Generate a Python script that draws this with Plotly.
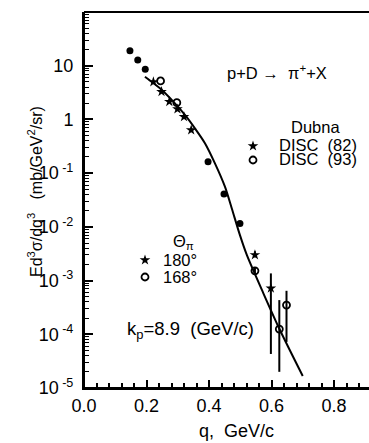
import plotly.graph_objects as go

# ---------------- data ----------------
dubna_q = [0.147, 0.172, 0.196, 0.397, 0.448, 0.499]
dubna_v = [19.0, 12.8, 8.6, 0.163, 0.041, 0.0116]

disc82_q = [0.222, 0.248, 0.273, 0.299, 0.320, 0.343, 0.547, 0.598]
disc82_v = [5.0, 3.28, 2.14, 1.56, 1.12, 0.635, 0.0030, 7.2e-4]
disc82_hi = [5.0, 3.28, 2.14, 1.56, 1.12, 0.635, 0.0035, 1.36e-3]
disc82_lo = [5.0, 3.28, 2.14, 1.56, 1.12, 0.635, 0.0027, 4.3e-5]

disc93_q = [0.245, 0.297, 0.547, 0.625, 0.648]
disc93_v = [5.2, 2.05, 0.00152, 1.25e-4, 3.5e-4]
disc93_hi = [5.2, 2.05, 0.00175, 4.33e-4, 6.45e-4]
disc93_lo = [5.2, 2.05, 0.00130, 2.0e-5, 7.2e-5]

curve_q = [0.195, 0.243, 0.286, 0.323, 0.355, 0.387, 0.419, 0.451, 0.473, 0.499, 0.521,
           0.574, 0.627, 0.700]
curve_v = [6.25, 3.8, 2.14, 1.21, 0.68, 0.36, 0.152, 0.056, 0.022, 0.0070, 0.0030,
           5.8e-4, 1.2e-4, 1.67e-5]

y_tickvals = [1e2, 1e1, 1, 1e-1, 1e-2, 1e-3, 1e-4, 1e-5]
y_ticktext = ["10<sup> 2</sup> ", "10 ", "1 ", "10<sup> -1</sup> ", "10<sup> -2</sup> ",
              "10<sup> -3</sup> ", "10<sup> -4</sup> ", "10<sup> -5</sup> "]
x_tickvals = [0.0, 0.2, 0.4, 0.6, 0.8]
x_ticktext = ["0.0", "0.2", "0.4", "0.6", "0.8"]

FONT = "Liberation Sans"
W, H = 369, 443
L, R, T, B = 84, 0, 12, 55
PW, PH = W - L - R, H - T - B
XMAX = 0.912

x_minor = [round(i * 0.04, 2) for i in range(0, 23)]
y_minor = [k * 10.0 ** d for d in range(-5, 2) for k in range(2, 10)]


def px(xp):
    return (xp - L) / PW


def py(yp):
    return (H - B - yp) / PH


def dq(xp):
    return (xp - L) / PW * XMAX


def dv(yp):
    return 10 ** (2 - (yp - T) / PH * 7)


fig = go.Figure()

fig.add_trace(go.Scatter(x=curve_q, y=curve_v, mode="lines",
                         line=dict(color="black", width=2, shape="spline", smoothing=0.8),
                         showlegend=False, hoverinfo="skip"))

fig.add_trace(go.Scatter(x=dubna_q, y=dubna_v, mode="markers",
                         marker=dict(symbol="circle", size=7, color="black"),
                         showlegend=False))


def errs(v, hi, lo):
    return [h - x for x, h in zip(v, hi)], [x - l for x, l in zip(v, lo)]


up82, dn82 = errs(disc82_v, disc82_hi, disc82_lo)
fig.add_trace(go.Scatter(x=disc82_q, y=disc82_v, mode="markers",
                         marker=dict(symbol="star", size=8, color="black"),
                         error_y=dict(type="data", symmetric=False, array=up82, arrayminus=dn82,
                                      color="black", thickness=2, width=0),
                         showlegend=False))

up93, dn93 = errs(disc93_v, disc93_hi, disc93_lo)
fig.add_trace(go.Scatter(x=disc93_q, y=disc93_v, mode="markers",
                         marker=dict(symbol="circle-open", size=7, color="black",
                                     line=dict(width=1.8, color="black")),
                         error_y=dict(type="data", symmetric=False, array=up93, arrayminus=dn93,
                                      color="black", thickness=2, width=0),
                         showlegend=False))

# legend keys drawn as markers
fig.add_trace(go.Scatter(x=[dq(253), dq(145)], y=[dv(146), dv(260)], mode="markers",
                         marker=dict(symbol="star", size=8, color="black"),
                         showlegend=False, hoverinfo="skip"))
fig.add_trace(go.Scatter(x=[dq(253), dq(145)], y=[dv(160), dv(277)], mode="markers",
                         marker=dict(symbol="circle-open", size=7, color="black",
                                     line=dict(width=1.8, color="black")),
                         showlegend=False, hoverinfo="skip"))

anns = [
    dict(text="p+D \u2192  \u03c0<sup>+</sup>+X", x=px(277), y=py(72), size=16.5),
    dict(text="Dubna", x=px(315), y=py(127), size=16.5),
    dict(text="DISC  (82)", x=px(318), y=py(145), size=16.5),
    dict(text="DISC  (93)", x=px(318), y=py(159), size=16.5),
    dict(text="\u0398<sub>\u03c0</sub>", x=px(183), y=py(242), size=16.5),
    dict(text="180\u00b0", x=px(180), y=py(260), size=16.5),
    dict(text="168\u00b0", x=px(180), y=py(277), size=16.5),
    dict(text="k<sub>p</sub>=8.9  (GeV/c)", x=px(190), y=py(330), size=18.5),
    dict(text="q,  GeV/c", x=px(236), y=py(431), size=18),
    dict(text="Ed<sup>3</sup>\u03c3/dq<sup>3</sup>   (mb/GeV<sup>2</sup>/sr)",
         x=px(35), y=py(192), textangle=-90, size=16),
]
for a in anns:
    sz = a.pop("size")
    fig.add_annotation(xref="paper", yref="paper", showarrow=False,
                       xanchor="center", yanchor="middle",
                       font=dict(family=FONT, size=sz, color="black"), **a)

# plot frame (left, bottom, top) as paper-referenced lines
for x0, y0, x1, y1 in [(0, 0, 1, 0), (0, 0, 0, 1), (0, 1, 1, 1)]:
    fig.add_shape(type="line", xref="paper", yref="paper", x0=x0, y0=y0, x1=x1, y1=y1,
                  line=dict(color="black", width=2), layer="above")

fig.update_layout(
    width=W, height=H,
    margin=dict(l=L, r=R, t=T, b=B),
    paper_bgcolor="white", plot_bgcolor="white",
    xaxis=dict(range=[0, XMAX],
               showline=True, linecolor="black", linewidth=2,
               ticks="inside", ticklen=8, tickwidth=2, tickcolor="black",
               tickmode="array", tickvals=x_tickvals, ticktext=x_ticktext,
               minor=dict(tickmode="array", tickvals=x_minor, ticks="inside",
                          ticklen=5, tickwidth=1.5, tickcolor="black"),
               tickfont=dict(family=FONT, size=18, color="black")),
    yaxis=dict(type="log", range=[-5, 2],
               showline=True, linecolor="black", linewidth=2,
               ticks="inside", ticklen=9, tickwidth=2, tickcolor="black",
               tickmode="array", tickvals=y_tickvals, ticktext=y_ticktext,
               minor=dict(tickmode="array", tickvals=y_minor, ticks="inside",
                          ticklen=5, tickwidth=1.2, tickcolor="black"),
               tickfont=dict(family=FONT, size=18, color="black")),
)
fig.update_xaxes(showgrid=False, zeroline=False)
fig.update_yaxes(showgrid=False, zeroline=False)

fig.write_html("out.html")
